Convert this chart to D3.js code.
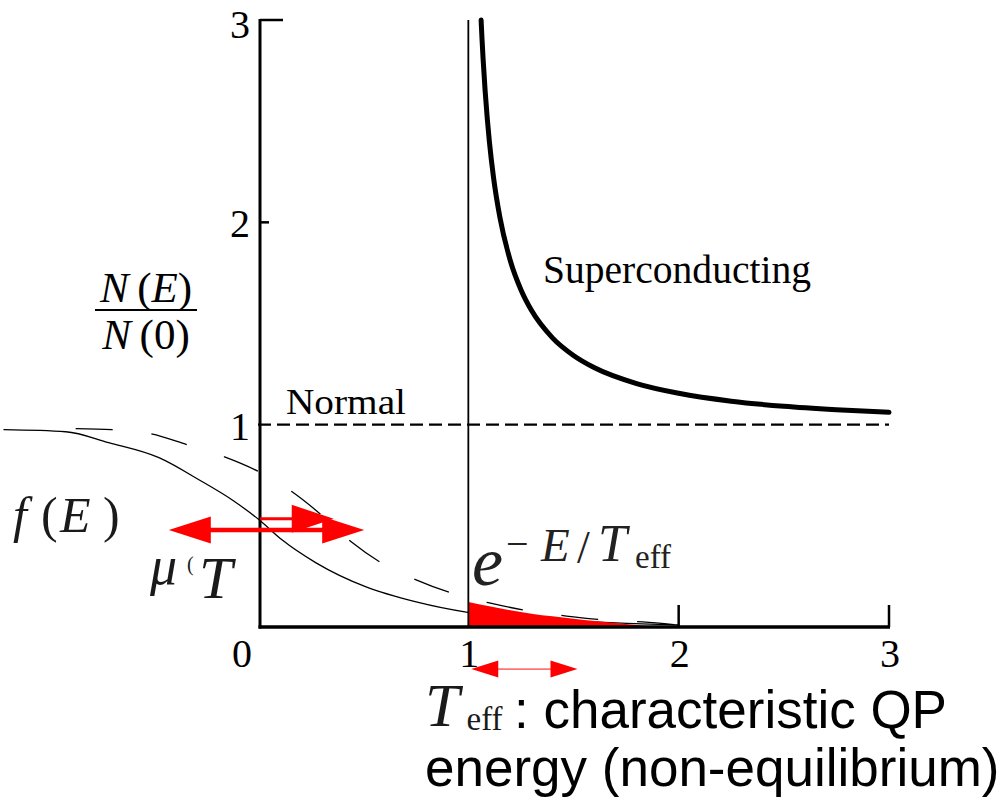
<!DOCTYPE html>
<html><head><meta charset="utf-8">
<script src="https://cdn.jsdelivr.net/npm/d3@7"></script>
<style>body{margin:0;background:#fff}svg{display:block}</style>
</head><body>
<svg id="c" width="1008" height="801"></svg>
<script>
// ---- data ----
const xTicks = [0, 1, 2, 3];
const yTicks = [1, 2, 3];
const xInnerTicks = [2, 3];
// superconducting density of states N(E)/N(0)
const scE = [1.0607, 1.065, 1.07, 1.08, 1.09, 1.1, 1.12, 1.15, 1.2, 1.25, 1.3, 1.4, 1.5, 1.6, 1.8, 2.0, 2.25, 2.5, 2.75, 3.0];
const scN = [3.0, 2.907, 2.811, 2.648, 2.513, 2.400, 2.220, 2.025, 1.809, 1.667, 1.565, 1.429, 1.342, 1.281, 1.203, 1.155, 1.116, 1.091, 1.074, 1.061];
// normal state
const normalE = [0, 3];
const normalN = [1, 1];
// equilibrium distribution f(E) (solid)
const fermiE = [-1.21, -0.914, -0.71, -0.471, -0.281, -0.124, 0.005, 0.114, 0.276, 0.514, 0.752, 0.99, 1.2, 1.43, 1.7, 2.0];
const fermiF = [0.975, 0.965, 0.911, 0.837, 0.728, 0.629, 0.530, 0.431, 0.317, 0.198, 0.124, 0.074, 0.052, 0.035, 0.020, 0.010];
// non-equilibrium distribution (dashed)
const hotE = [-0.867, -0.695, -0.51, -0.338, -0.162, 0.005, 0.162, 0.29, 0.443, 0.586, 0.752, 0.919, 1.1, 1.29, 1.467, 1.643, 1.829, 1.99];
const hotF = [0.980, 0.975, 0.955, 0.901, 0.842, 0.767, 0.668, 0.564, 0.421, 0.317, 0.233, 0.168, 0.119, 0.079, 0.054, 0.035, 0.025, 0.010];
// quasiparticle tail e^{-E/Teff} (red area)
const tailE = [1.0, 1.1, 1.2, 1.3, 1.4, 1.5, 1.6, 1.7, 1.8, 1.9];
const tailF = [0.124, 0.102, 0.083, 0.066, 0.053, 0.041, 0.030, 0.020, 0.010, 0.0];
// annotation arrows (data units)
const tArrowE = [-0.424, 0.505], tArrowF = [0.48, 0.48];
const muArrowE = [0.01, 0.36], muArrowF = [0.535, 0.535];
const teffArrowE = [1.014, 1.519], teffArrowF = [-0.208, -0.208];

// ---- drawing ----
const svg = d3.select('#c');
const x = d3.scaleLinear().domain([0, 3]).range([258, 889]);
const y = d3.scaleLinear().domain([0, 3]).range([627, 20]);
const serif = "'Liberation Serif','Times New Roman',serif";
const sans = "'Liberation Sans',Arial,sans-serif";

const zip = (a, b) => a.map((v, i) => [v, b[i]]);
const line = d3.line().x(d => x(d[0])).y(d => y(d[1])).curve(d3.curveMonotoneX);

// solid f(E)
svg.append('path').attr('d', line(zip(fermiE, fermiF)))
  .attr('fill', 'none').attr('stroke', '#000').attr('stroke-width', 1.3);

// red tail area
svg.append('path')
  .attr('d', d3.area().x(d => x(d[0])).y0(y(0)).y1(d => y(d[1])).curve(d3.curveMonotoneX)(zip(tailE, tailF)))
  .attr('fill', '#ff0000');

// dashed f(E)
svg.append('path').attr('d', line(zip(hotE, hotF)))
  .attr('fill', 'none').attr('stroke', '#000').attr('stroke-width', 1.3)
  .attr('stroke-dasharray', '37,39');

// normal state dashed
svg.append('path').attr('d', d3.line().x(d => x(d[0])).y(d => y(d[1]))(zip(normalE, normalN)))
  .attr('fill', 'none').attr('stroke', '#000').attr('stroke-width', 2.4)
  .attr('stroke-dasharray', '13,6');

// superconducting curve
svg.append('path').attr('d', line(zip(scE, scN)))
  .attr('fill', 'none').attr('stroke', '#000').attr('stroke-width', 5)
  .attr('stroke-linecap', 'round');

// gap edge vertical line at E=1
svg.append('line').attr('x1', x(1)).attr('x2', x(1)).attr('y1', y(0)).attr('y2', y(3))
  .attr('stroke', '#000').attr('stroke-width', 1.8);

// axes
svg.append('line').attr('x1', x(0) + 2).attr('x2', x(0) + 2).attr('y1', y(3) - 1).attr('y2', y(0) + 1.5)
  .attr('stroke', '#000').attr('stroke-width', 3);
svg.append('line').attr('x1', x(0) + 0.5).attr('x2', x(3) + 1).attr('y1', y(0)).attr('y2', y(0))
  .attr('stroke', '#000').attr('stroke-width', 3.5);
// y ticks (inner)
svg.selectAll('.yt').data(yTicks.filter(v => v > 1)).enter().append('line')
  .attr('x1', x(0) + 2).attr('x2', d => x(0) + (d === 3 ? 25 : 11))
  .attr('y1', d => y(d)).attr('y2', d => y(d))
  .attr('stroke', '#000').attr('stroke-width', 2.5);
// x ticks (inner)
svg.selectAll('.xt').data(xInnerTicks).enter().append('line')
  .attr('x1', d => x(d)).attr('x2', d => x(d))
  .attr('y1', y(0)).attr('y2', y(0) - 22)
  .attr('stroke', '#000').attr('stroke-width', 2.5);

// tick labels
svg.selectAll('.xl').data(xTicks).enter().append('text')
  .attr('x', d => x(d) + (d === 0 ? -16 : 1)).attr('y', 667)
  .attr('text-anchor', 'middle').attr('font-family', serif).attr('font-size', 40)
  .text(d => d);
svg.selectAll('.yl').data(yTicks).enter().append('text')
  .attr('x', 240).attr('y', d => d === 3 ? 38 : y(d) + 15)
  .attr('text-anchor', 'middle').attr('font-family', serif).attr('font-size', 40)
  .text(d => d);

// y-axis label fraction N(E)/N(0)
const num = svg.append('text').attr('x', 146).attr('y', 302).attr('text-anchor', 'middle')
  .attr('font-family', serif).attr('font-size', 43);
num.append('tspan').attr('font-style', 'italic').text('N');
num.append('tspan').text('\u2009(');
num.append('tspan').attr('font-style', 'italic').text('E');
num.append('tspan').text(')');
svg.append('line').attr('x1', 95).attr('x2', 197).attr('y1', 310).attr('y2', 310)
  .attr('stroke', '#000').attr('stroke-width', 2);
const den = svg.append('text').attr('x', 146).attr('y', 349).attr('text-anchor', 'middle')
  .attr('font-family', serif).attr('font-size', 43);
den.append('tspan').attr('font-style', 'italic').text('N');
den.append('tspan').text('\u2009(0)');

// curve labels
svg.append('text').attr('x', 286).attr('y', 414).attr('font-family', serif).attr('font-size', 36)
  .attr('textLength', 120).attr('lengthAdjust', 'spacingAndGlyphs').text('Normal');
svg.append('text').attr('x', 543).attr('y', 283).attr('font-family', serif).attr('font-size', 40)
  .attr('textLength', 268).attr('lengthAdjust', 'spacingAndGlyphs').text('Superconducting');

// arrows
function arrowHead(tipX, tipY, dir, len, half) {
  return `M${tipX},${tipY}L${tipX - dir * len},${tipY - half}L${tipX - dir * len},${tipY + half}Z`;
}
{
  const x0 = x(muArrowE[0]), x1 = x(muArrowE[1]), yy = y(muArrowF[0]);
  svg.append('line').attr('x1', x0).attr('x2', x1 - 40).attr('y1', yy).attr('y2', yy)
    .attr('stroke', '#ff0000').attr('stroke-width', 3.2);
  svg.append('path').attr('d', arrowHead(x1, yy, 1, 42, 14)).attr('fill', '#ff0000');
}
{
  const x0 = x(tArrowE[0]), x1 = x(tArrowE[1]), yy = y(tArrowF[0]);
  svg.append('line').attr('x1', x0 + 40).attr('x2', x1 - 40).attr('y1', yy).attr('y2', yy)
    .attr('stroke', '#ff0000').attr('stroke-width', 4.5);
  svg.append('path').attr('d', arrowHead(x0, yy, -1, 42, 13.5)).attr('fill', '#ff0000');
  svg.append('path').attr('d', arrowHead(x1, yy, 1, 42, 13.5)).attr('fill', '#ff0000');
}
{
  const x0 = x(teffArrowE[0]), x1 = x(teffArrowE[1]), yy = y(teffArrowF[0]);
  svg.append('line').attr('x1', x0 + 25).attr('x2', x1 - 25).attr('y1', yy).attr('y2', yy)
    .attr('stroke', '#ff7575').attr('stroke-width', 1.6);
  svg.append('path').attr('d', arrowHead(x0, yy, -1, 27, 8.5)).attr('fill', '#ff0000');
  svg.append('path').attr('d', arrowHead(x1, yy, 1, 27, 8.5)).attr('fill', '#ff0000');
}

// math annotations (glyph by glyph, TeX-like placement)
const mathCol = '#1a1a1a';
function glyph(txt, gx, gy, size, italic, col) {
  return svg.append('text').attr('x', gx).attr('y', gy).attr('font-family', serif)
    .attr('font-size', size).attr('fill', col || mathCol)
    .attr('font-style', italic ? 'italic' : 'normal').text(txt);
}
// f(E)
glyph('f', 13, 532, 50, true);
glyph('(', 41, 532, 50, false);
glyph('E', 60, 532, 50, true);
glyph(')', 103, 532, 50, false);
// mu, T
glyph('\u03bc', 150, 584, 54, true);
glyph('(', 187, 571, 20, false);
glyph('T', 199, 598, 60, true);
// e^{-E/Teff}
glyph('e', 472, 585, 70, true, '#222');
glyph('\u2212', 506, 557, 40, false, '#222');
glyph('E', 541, 561, 47, true, '#222');
glyph('/', 577, 563, 46, false, '#222');
glyph('T', 598, 561, 52, true, '#222');
glyph('eff', 635, 568, 33, false, '#222');
// Teff caption (T with subscript in one text)
const tcap = svg.append('text').attr('x', 425).attr('y', 726).attr('font-family', serif).attr('fill', mathCol);
tcap.append('tspan').attr('font-size', 62).attr('font-style', 'italic').text('T');
tcap.append('tspan').attr('font-size', 33).attr('dx', 7).attr('dy', 4).text('eff');
svg.append('text').attr('x', 514).attr('y', 728).attr('font-family', sans).attr('font-size', 53)
  .attr('fill', '#000').text(': characteristic QP');
svg.append('text').attr('x', 425).attr('y', 786).attr('font-family', sans).attr('font-size', 53)
  .attr('fill', '#000').text('energy (non-equilibrium)');
</script>
</body></html>
